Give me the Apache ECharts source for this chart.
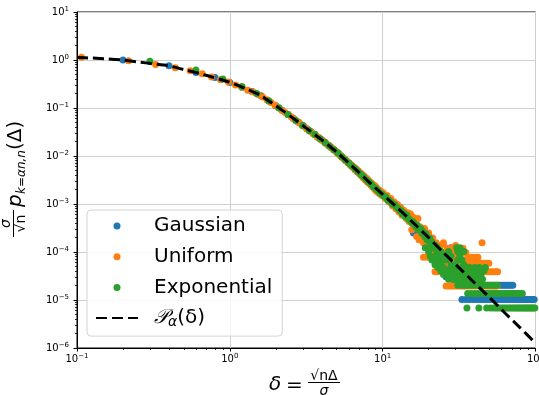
<!DOCTYPE html>
<html><head><meta charset="utf-8">
<script src="https://cdn.jsdelivr.net/npm/echarts@6/dist/echarts.min.js"></script>
<style>html,body{margin:0;padding:0;background:#fff}#c{width:539px;height:395px}</style>
</head><body><div id="c"></div><script>
// ---- tick labels (exponents of 10) ----
const xTickExps = [-1, 0, 1, 2];
const yTickExps = [-6, -5, -4, -3, -2, -1, 0, 1];
const minorMantissas = [2, 3, 4, 5, 6, 7, 8, 9];

// ---- series names ----
const seriesNames = ['Gaussian', 'Uniform', 'Exponential', 'Pα(δ)'];

// ---- theoretical curve P_alpha(delta) ----
const curveDelta = [0.1,0.1259,0.1585,0.1995,0.2512,0.3162,0.3981,0.5012,0.631,0.7943,1,1.259,1.585,1.995,2.512,3.162,3.981,5.012,6.31,7.943,10,12.59,15.85,19.95,25.12,31.62,39.81,50.12,63.1,79.43,100];
const curveP = [1.122,1.096,1.047,1.0,0.912,0.832,0.759,0.631,0.525,0.427,0.343,0.257,0.182,0.112,0.0661,0.038,0.0219,0.012,0.00617,0.00309,0.00158,0.000813,0.000407,0.0002,9.55e-5,4.68e-5,2.29e-5,1.12e-5,5.37e-6,2.63e-6,1.26e-6];

// ---- Gaussian samples ----
const gaussianPts = [[0.2,1.0],[0.4,0.76],[0.6,0.55],[0.8,0.43],[1.0,0.34],[1.2,0.27],[1.4,0.22],[1.6,0.18],[1.8,0.14],[2.0,0.112],[2.2,0.09],[2.4,0.073],[2.6,0.061],[2.8,0.051],[3.0,0.043],[3.2,0.037],[3.4,0.032],[3.6,0.028],[3.8,0.0244],[4.0,0.0215],[4.2,0.019],[4.4,0.0169],[4.6,0.015],[4.8,0.0135],[5.0,0.0121],[5.2,0.0109],[5.4,0.0097],[5.6,0.0088],[5.8,0.0079],[6.0,0.0072],[6.2,0.0065],[6.4,0.0059],[6.6,0.0054],[6.8,0.0049],[7.0,0.0045],[7.2,0.0041],[7.4,0.0038],[7.6,0.0035],[7.8,0.0033],[8.0,0.0030],[8.2,0.0028],[8.4,0.0026],[8.6,0.0025],[8.8,0.0023],[9.0,0.0021],[9.2,0.0020],[9.4,0.0019],[9.6,0.0018],[9.8,0.0017],[10.0,0.0016],[10.4,0.0014],[10.8,0.00125],[11.2,0.0011],[11.6,0.00098],[12.0,0.00096],[12.4,0.00083],[12.8,0.00074],[13.2,0.0007],[13.6,0.00062],[14.0,0.00055],[14.4,0.00054],[14.8,0.00046],[15.2,0.00043],[15.6,0.00041],[15.9,0.00025],[16.0,0.00036],[16.4,0.00033],[16.8,0.00036],[17.2,0.00028],[17.6,0.00027],[18.0,0.00025],[18.4,0.00024],[18.8,0.0002],[19.2,0.0002],[19.6,0.00017],[20.0,0.00021],[20.5,0.000163],[21.0,0.000153],[21.5,0.000133],[22.0,0.000122],[22.5,0.000143],[23.0,0.000102],[23.5,0.000112],[24.0,0.000092],[24.5,0.000082],[25.0,0.000092],[25.5,0.000071],[26.0,0.000082],[26.5,0.000061],[27.0,0.000071],[27.5,0.000051],[28.0,0.000122],[28.5,0.000061],[29.5,0.000051]];
const gaussianRowLevels = [1.02e-5, 2.04e-5, 3.06e-5, 4.08e-5, 5.1e-5];
const gaussianRowDeltas = [
  [33,35,37,39,41,43,45,47,49,51,53.5,56,58.5,61,63.5,66,68.5,71,73.5,76,78.5,81,83.5,86,88.5,91,93.5,96,98],
  [29,31,33,35,37,39,41,43,45,47,49,51,53,55,57,59,61,63,65,67,69,71],
  [26,27.6,30,32,34,36,39,42],
  [25,28,31,34,37],
  [24,27,31,33]
];

// ---- Uniform samples ----
const uniformPts = [[0.107,1.14],[0.217,0.97],[0.327,0.81],[0.44,0.69],[0.55,0.60],[0.66,0.52],[0.76,0.44],[0.87,0.39],[0.98,0.35],[1.09,0.30],[1.2,0.27],[1.31,0.235],[1.42,0.215],[1.53,0.19],[1.64,0.17],[1.75,0.148],[1.86,0.13],[1.97,0.116],[2.08,0.102],[2.19,0.09],[2.3,0.081],[2.41,0.073],[2.52,0.066],[2.63,0.059],[2.74,0.053],[2.85,0.049],[2.96,0.044],[3.07,0.041],[3.18,0.037],[3.29,0.034],[3.4,0.032],[3.51,0.029],[3.62,0.028],[3.73,0.025],[3.84,0.024],[3.95,0.022],[4.06,0.021],[4.17,0.0195],[4.28,0.018],[4.39,0.017],[4.5,0.016],[4.61,0.015],[4.72,0.0141],[4.83,0.0132],[4.94,0.0126],[5.05,0.0116],[5.16,0.0112],[5.27,0.0102],[5.38,0.0099],[5.49,0.0091],[5.6,0.0089],[5.71,0.0081],[5.82,0.0079],[5.93,0.0072],[6.04,0.0071],[6.15,0.0064],[6.26,0.0065],[6.37,0.0058],[6.48,0.0059],[6.59,0.0052],[6.7,0.0054],[6.81,0.0047],[6.92,0.0049],[7.03,0.0043],[7.14,0.0045],[7.25,0.0039],[7.36,0.0041],[7.47,0.0035],[7.58,0.0038],[7.69,0.0032],[7.8,0.0035],[7.91,0.0029],[8.02,0.0032],[8.13,0.0027],[8.24,0.0029],[8.35,0.0025],[8.46,0.0027],[8.57,0.0023],[8.68,0.0025],[8.79,0.0021],[8.9,0.0024],[9.01,0.0019],[9.12,0.0022],[9.23,0.0018],[9.34,0.0020],[9.45,0.0017],[9.56,0.0019],[9.67,0.0016],[9.78,0.0018],[9.89,0.0015],[10.1,0.0017],[10.4,0.0013],[10.7,0.0015],[11.0,0.0011],[11.3,0.0013],[11.6,0.00092],[11.9,0.0011],[12.2,0.0008],[12.5,0.00098],[12.8,0.00068],[13.1,0.00086],[13.4,0.00058],[13.7,0.00074],[14.0,0.00068],[14.3,0.0005],[14.6,0.00066],[14.9,0.00043],[15.2,0.00062],[15.5,0.00029],[15.8,0.00053],[16.1,0.00034],[16.4,0.00046],[16.7,0.00021],[17.0,0.0005],[17.3,0.00018],[17.6,0.00033],[17.9,0.00026],[18.2,0.0003],[18.5,0.000156],[18.8,0.00031],[19.4,0.00021],[19.7,0.000137],[20,0.00025],[20.4,0.000117],[21.2,0.000195],[22.4,0.000156],[23.2,0.000117],[24,0.000137],[25,0.000156]];
const uniformRowLevels = [1.95e-5, 3.9e-5, 5.85e-5, 7.8e-5, 9.75e-5, 1.2e-4, 1.37e-4, 1.56e-4];
const uniformRowDeltas = [
  [26,27,28,29,30,31,32,33,34,35,36.5,38,39.5,41,42.5,44,45.5,47,48.5,50,51.5,53,54.5,56],
  [22,23,24,25,26,27,28,29,30,31,32,33,34.5,36,37.5,39,40.5,42,43.5,45,47,49,51,53,55,56.5],
  [22.5,23.5,25,26.5,28,29.5,31,32.5,34,36,38,40,42,44,46,48,49.5],
  [18.5,19.5,20.5,21.5,22.5,23.5,24.5,26,27.5,29,30.5,32,36,37.5,39,40.5,42],
  [20,21.5,23,24.5,26,27.5,29,33,35],
  [26.5,28,29.5,31,32.5,33.5],
  [30],
  [44.7]
];

// ---- Exponential samples ----
const exponentialPts = [[0.3,0.94],[0.6,0.62],[0.9,0.40],[1.2,0.28],[1.5,0.20],[1.8,0.14],[2.1,0.10],[2.4,0.073],[2.7,0.055],[3.0,0.043],[3.3,0.034],[3.6,0.028],[3.9,0.023],[4.2,0.019],[4.5,0.0159],[4.8,0.0135],[5.1,0.0115],[5.4,0.0097],[5.7,0.0083],[6.0,0.0071],[6.3,0.0062],[6.6,0.0054],[6.9,0.0047],[7.2,0.0041],[7.5,0.0037],[7.8,0.0032],[8.1,0.0029],[8.4,0.0026],[8.7,0.0023],[9.0,0.0021],[9.3,0.0019],[9.6,0.0017],[9.9,0.0016],[10.2,0.00145],[10.5,0.0014],[10.8,0.0012],[11.1,0.00118],[11.4,0.00108],[11.7,0.00098],[12.0,0.00097],[12.3,0.00086],[12.6,0.00082],[12.9,0.00074],[13.2,0.00072],[13.5,0.00062],[13.8,0.00064],[14.1,0.00055],[14.4,0.00058],[14.7,0.00049],[15.0,0.00047],[15.3,0.00045],[15.6,0.0004],[15.9,0.00042],[16.2,0.00037],[16.5,0.00033],[16.8,0.00036],[17.1,0.0003],[17.4,0.00029],[17.7,0.00031],[18.0,0.00025],[18.3,0.00027],[18.6,0.00023],[18.9,0.00021],[19.2,0.00024],[19.5,0.00018],[19.8,0.0002],[20.1,0.00017],[20.4,0.00019],[20.7,0.00015],[21.0,0.00016],[21.3,0.00013],[21.6,0.00014],[21.9,0.00012],[22.2,0.000136],[22.5,0.000109],[22.8,0.000122],[23.1,0.000095],[23.4,0.000109],[23.7,0.000088],[24.0,0.000102],[24.3,0.000075],[24.6,0.000088],[24.9,0.000068]];
const exponentialRowLevels = [6.8e-6, 1.36e-5, 2.04e-5, 2.72e-5, 3.4e-5, 4.08e-5, 4.76e-5, 5.44e-5, 6.8e-5, 8.2e-5, 1.02e-4, 1.22e-4];
const exponentialRowDeltas = [
  [35.6,42.6,47.9,50.6,53,55,57,59,61,63,65,67,69,71,73,75,77,79,81,83,85,87,89,91,93,95,97,99],
  [36,38,40,42,44,46,48,50,52,54,56,58,60,62,64,66,68,70,72,74,76,78,80,82],
  [31,32.5,34,35.5,37,38.5,40,42,44,46,48,50,52,54,56],
  [27,29,31,33,35,37,40,43,45],
  [25,27,30,32,35,38,41,44],
  [24,26,28,31,34,36,39,42,46],
  [23,25,29,33,35,37,40,43,47],
  [22,24,28,30,34],
  [21,23,26,31,33],
  [20.5,22,25,28,32],
  [20,24,27,31,34],
  [19,21,30.5,32]
];

// ---- build series data from the arrays ----
function buildData(pts, levels, rows) {
  const out = pts.map(p => [p[0], p[1]]);
  levels.forEach((lv, i) => rows[i].forEach(d => out.push([d, lv])));
  return out;
}
const curveData = curveDelta.map((d, i) => [d, curveP[i]]);
const expLabel = e => '{b|10}{e|' + (e < 0 ? '\u2212' + (-e) : String(e)) + '}';
const xMajor = xTickExps.map(e => Math.pow(10, e));
const yMajor = yTickExps.map(e => Math.pow(10, e));
function minors(exps) {
  const r = [];
  for (let i = 0; i < exps.length - 1; i++) minorMantissas.forEach(m => r.push(m * Math.pow(10, exps[i])));
  return r;
}
const tickRich = {
  b: { fontFamily: 'DejaVu Sans', fontSize: 10, color: '#000' },
  e: { fontFamily: 'DejaVu Sans', fontSize: 7, color: '#000', padding: [0, 0, 6, 0] }
};
const FONT = 'DejaVu Sans';

const chart = echarts.init(document.getElementById('c'), null, { renderer: 'canvas' });
const xBase = { type: 'log', logBase: 10, min: 0.1, max: 100, gridIndex: 0 };
const yBase = { type: 'log', logBase: 10, min: 1e-6, max: 10, gridIndex: 0 };

chart.setOption({
  animation: false,
  backgroundColor: '#fff',
  grid: { left: 77, right: 3.5, top: 12, bottom: 47, containLabel: false, outerBoundsMode: 'none',
    show: true, borderColor: '#000', borderWidth: 1, backgroundColor: 'transparent' },
  xAxis: [
    Object.assign({}, xBase, {
      axisLine: { show: true, lineStyle: { color: '#000', width: 1 } },
      axisTick: { show: true, length: 3.5, lineStyle: { color: '#000' }, customValues: xMajor },
      axisLabel: { show: true, margin: 5, customValues: xMajor, formatter: v => expLabel(Math.round(Math.log10(v))), rich: tickRich, hideOverlap: false },
      splitLine: { show: true, lineStyle: { color: '#cfcfcf', width: 1 } }
    }),
    Object.assign({}, xBase, {
      position: 'bottom',
      axisLine: { show: false },
      axisTick: { show: true, length: 2, lineStyle: { color: '#000', width: 0.8 }, customValues: minors(xTickExps) },
      axisLabel: { show: false },
      splitLine: { show: false }
    })
  ],
  yAxis: [
    Object.assign({}, yBase, {
      axisLine: { show: true, lineStyle: { color: '#000', width: 1 } },
      axisTick: { show: true, length: 3.5, lineStyle: { color: '#000' }, customValues: yMajor },
      axisLabel: { show: true, margin: 8, customValues: yMajor, formatter: v => expLabel(Math.round(Math.log10(v))), rich: tickRich },
      splitLine: { show: true, lineStyle: { color: '#cfcfcf', width: 1 } }
    }),
    Object.assign({}, yBase, {
      position: 'left',
      axisLine: { show: false },
      axisTick: { show: true, length: 2, lineStyle: { color: '#000', width: 0.8 }, customValues: minors(yTickExps) },
      axisLabel: { show: false },
      splitLine: { show: false }
    })
  ],
  legend: {
    orient: 'vertical', left: 87, top: 210,
    padding: [4, 10, 6, 8], itemGap: 6.7, itemWidth: 42, itemHeight: 7,
    backgroundColor: 'rgba(255,255,255,0.8)', borderColor: '#d4d4d4', borderWidth: 1, borderRadius: 4,
    data: [
      { name: seriesNames[0], icon: 'circle' },
      { name: seriesNames[1], icon: 'circle' },
      { name: seriesNames[2], icon: 'circle' },
      { name: seriesNames[3], itemStyle: { opacity: 0 } }
    ],
    formatter: n => n === seriesNames[3] ? '{cal|𝒫}{sub|α}{n|(δ)}' : n,
    textStyle: {
      fontFamily: FONT, fontSize: 20, color: '#000', lineHeight: 24, padding: [0, 0, 0, 11],
      rich: {
        cal: { fontFamily: FONT, fontSize: 20, fontStyle: 'italic', color: '#000' },
        sub: { fontFamily: FONT, fontSize: 14, fontStyle: 'italic', color: '#000', padding: [9, 0, 0, 0] },
        n: { fontFamily: FONT, fontSize: 20, color: '#000' }
      }
    }
  },
  series: [
    { name: seriesNames[0], type: 'scatter', xAxisIndex: 0, yAxisIndex: 0, symbol: 'circle', symbolSize: 7,
      itemStyle: { color: '#1f77b4', opacity: 1 }, data: buildData(gaussianPts, gaussianRowLevels, gaussianRowDeltas) },
    { name: seriesNames[1], type: 'scatter', xAxisIndex: 0, yAxisIndex: 0, symbol: 'circle', symbolSize: 7,
      itemStyle: { color: '#ff7f0e', opacity: 1 }, data: buildData(uniformPts, uniformRowLevels, uniformRowDeltas) },
    { name: seriesNames[2], type: 'scatter', xAxisIndex: 0, yAxisIndex: 0, symbol: 'circle', symbolSize: 7,
      itemStyle: { color: '#2ca02c', opacity: 1 }, data: buildData(exponentialPts, exponentialRowLevels, exponentialRowDeltas) },
    { name: seriesNames[3], type: 'line', xAxisIndex: 0, yAxisIndex: 0, showSymbol: false, symbol: 'none', smooth: 0.2,
      lineStyle: { color: '#000', width: 3, type: [11, 5] }, itemStyle: { color: '#000' }, data: curveData, z: 5 }
  ],
  graphic: [
    // x-axis label: delta = sqrt(n) Delta / sigma
    { type: 'text', x: 269, y: 385, silent: true, style: { text: 'δ', font: 'italic 20px DejaVu Sans', fill: '#000', align: 'left', verticalAlign: 'middle' } },
    { type: 'text', x: 286, y: 386, silent: true, style: { text: '=', font: '20px DejaVu Sans', fill: '#000', align: 'left', verticalAlign: 'middle' } },
    { type: 'text', x: 324, y: 376, silent: true, style: { text: '√nΔ', font: '14px DejaVu Sans', fill: '#000', align: 'center', verticalAlign: 'middle' } },
    { type: 'line', silent: true, shape: { x1: 308, y1: 382.5, x2: 340, y2: 382.5 }, style: { stroke: '#000', lineWidth: 1 } },
    { type: 'text', x: 324, y: 391, silent: true, style: { text: 'σ', font: 'italic 14px DejaVu Sans', fill: '#000', align: 'center', verticalAlign: 'middle' } },
    // y-axis label, rotated
    { type: 'group', x: 13.5, y: 237, rotation: Math.PI / 2, silent: true, children: [
      { type: 'text', x: 13.5, y: -7, style: { text: 'σ', font: 'italic 14px DejaVu Sans', fill: '#000', align: 'center', verticalAlign: 'middle' } },
      { type: 'line', shape: { x1: 0, y1: 0, x2: 27, y2: 0 }, style: { stroke: '#000', lineWidth: 1 } },
      { type: 'text', x: 13.5, y: 8, style: { text: '√n', font: '14px DejaVu Sans', fill: '#000', align: 'center', verticalAlign: 'middle' } },
      { type: 'text', x: 30, y: 2, style: { text: 'p', font: 'italic 20px DejaVu Sans', fill: '#000', align: 'left', verticalAlign: 'middle' } },
      { type: 'text', x: 43, y: 8, style: { text: 'k=αn,n', font: 'italic 12px DejaVu Sans', fill: '#000', align: 'left', verticalAlign: 'middle' } },
      { type: 'text', x: 87, y: 2, style: { text: '(Δ)', font: '20px DejaVu Sans', fill: '#000', align: 'left', verticalAlign: 'middle' } }
    ] }
  ]
});
</script></body></html>
